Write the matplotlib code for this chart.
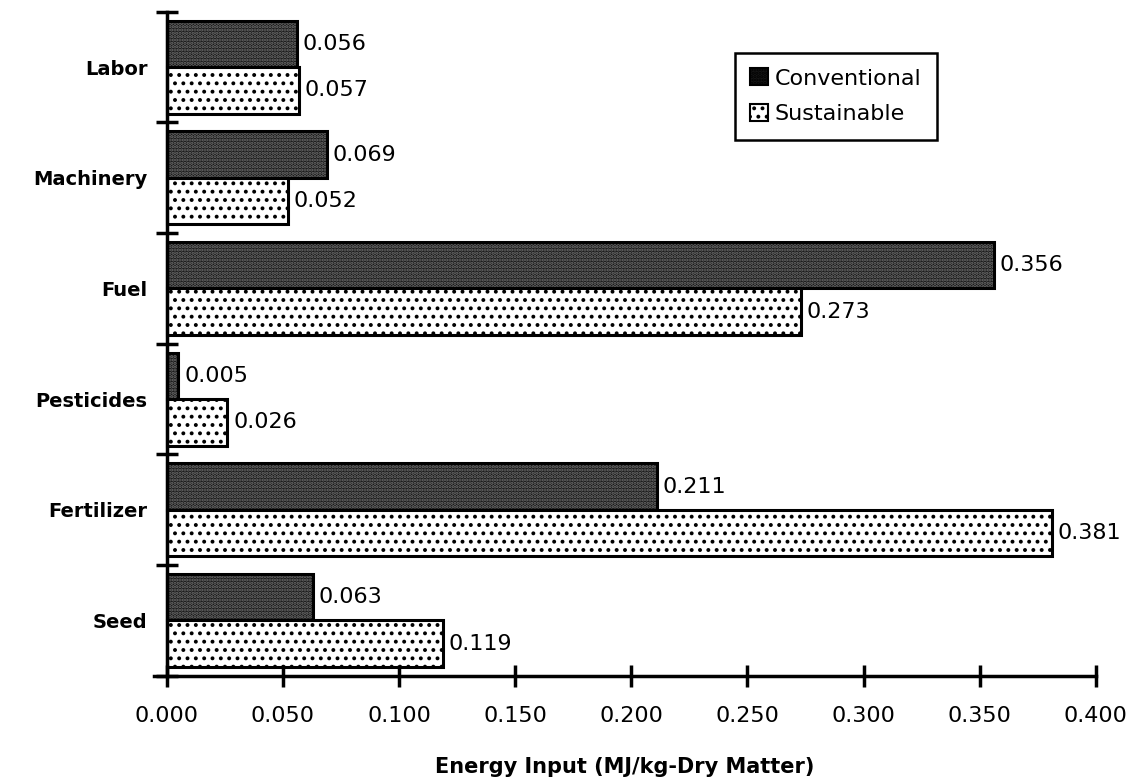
import matplotlib
matplotlib.use('Agg')
import matplotlib.pyplot as plt
from matplotlib.patches import Patch
import numpy as np

categories = ['Seed', 'Fertilizer', 'Pesticides', 'Fuel', 'Machinery', 'Labor']
conventional = [0.063, 0.211, 0.005, 0.356, 0.069, 0.056]
sustainable = [0.119, 0.381, 0.026, 0.273, 0.052, 0.057]
x_ticks = [0.000, 0.050, 0.100, 0.150, 0.200, 0.250, 0.300, 0.350, 0.400]

plt.rcParams['font.family'] = 'DejaVu Sans'
plt.rcParams['hatch.linewidth'] = 1.6

fig = plt.figure(figsize=(11.36, 7.84), dpi=100)
ax = fig.add_axes([0.1356, 0.138, 0.829, 0.847])

pos = np.arange(len(categories)) + 0.5
h = 0.42

# conventional: dark fill with light dots, sustainable: white with black dots
ax.barh(pos + h / 2, conventional, height=h, color='#161616', edgecolor='#707070',
        hatch='.....', linewidth=0)
ax.barh(pos + h / 2, conventional, height=h, fill=False, edgecolor='black', linewidth=2.2)
ax.barh(pos - h / 2, sustainable, height=h, color='white', edgecolor='black',
        hatch='..', linewidth=0)
ax.barh(pos - h / 2, sustainable, height=h, fill=False, edgecolor='black', linewidth=2.2)

for p, c, s in zip(pos, conventional, sustainable):
    ax.text(c + 0.0025, p + h / 2, '%.3f' % c, va='center', ha='left', fontsize=16)
    ax.text(s + 0.0025, p - h / 2, '%.3f' % s, va='center', ha='left', fontsize=16)

ax.set_xlim(-0.0055, 0.4)
ax.set_ylim(0, 6)
ax.spines['left'].set_position(('data', 0))
ax.spines['right'].set_visible(False)
ax.spines['top'].set_visible(False)
ax.spines['left'].set_linewidth(2.5)
ax.spines['bottom'].set_linewidth(2.5)

ax.set_xticks(x_ticks)
ax.set_xticklabels(['%.3f' % v for v in x_ticks], fontsize=16)
ax.set_yticks(np.arange(0, 7))
ax.set_yticklabels([])
ax.set_yticks(pos, minor=True)
ax.set_yticklabels(categories, minor=True, fontsize=14, fontweight='bold')
ax.tick_params(axis='y', which='minor', length=0, pad=14)
ax.tick_params(axis='both', which='major', direction='inout', length=16, width=2.5)
ax.tick_params(axis='x', pad=14)

ax.set_xlabel('Energy Input (MJ/kg-Dry Matter)', fontsize=15, fontweight='bold', labelpad=22)

handles = [Patch(facecolor='#161616', edgecolor='black', hatch='.....', linewidth=1.5),
           Patch(facecolor='white', edgecolor='black', hatch='..', linewidth=1.5)]
leg = ax.legend(handles, ['Conventional', 'Sustainable'], loc='upper left',
                bbox_to_anchor=(0.605, 0.955), fontsize=16, fancybox=False,
                edgecolor='black', framealpha=1, handlelength=0.8, handleheight=0.8,
                handletextpad=0.3, borderpad=0.7, labelspacing=0.7)
leg.get_frame().set_linewidth(1.8)

fig.savefig('out.png', dpi=100)
